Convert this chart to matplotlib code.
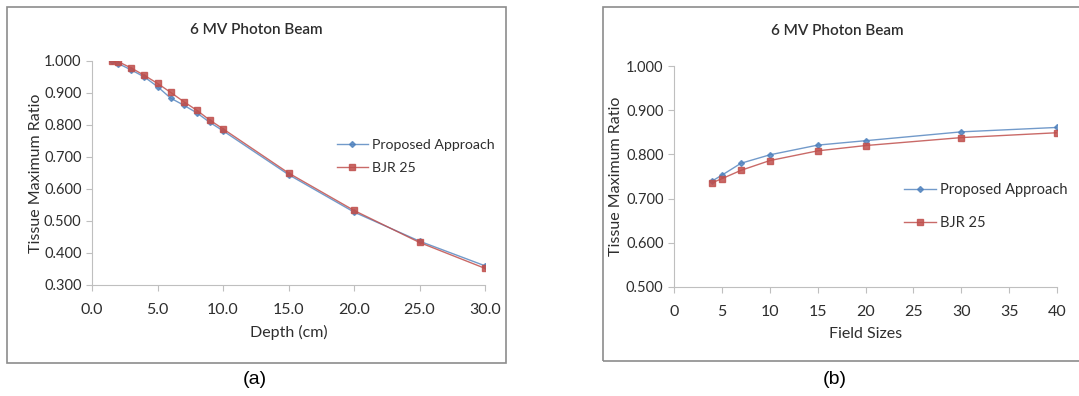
import matplotlib.pyplot as plt
from matplotlib.patches import Rectangle

depth = [1.5, 2, 3, 4, 5, 6, 7, 8, 9, 10, 15, 20, 25, 30]
tmr_prop_depth = [1.000, 0.992, 0.972, 0.950, 0.920, 0.884, 0.862, 0.838, 0.808, 0.782, 0.645, 0.528, 0.437, 0.360]
tmr_bjr_depth = [1.000, 0.998, 0.978, 0.955, 0.930, 0.902, 0.873, 0.846, 0.815, 0.788, 0.650, 0.533, 0.433, 0.352]

field = [4, 5, 7, 10, 15, 20, 30, 40]
tmr_prop_field = [0.740, 0.753, 0.780, 0.799, 0.821, 0.831, 0.851, 0.861]
tmr_bjr_field = [0.736, 0.745, 0.764, 0.786, 0.808, 0.820, 0.838, 0.849]

plt.rcParams['font.family'] = ['Lato', 'DejaVu Sans']
blue = '#4F81BD'
red = '#C0504D'
txt = '#2e2e2e'

fig = plt.figure(figsize=(10.79, 3.96), dpi=100)
W, H = 1079, 396

# outer boxes of the two panels
fig.patches.append(Rectangle((7/W, 1-363/H), 499/W, 356/H, transform=fig.transFigure,
                             fill=False, edgecolor='#8c8c8c', lw=1.2))
fig.patches.append(Rectangle((603/W, 1-361/H), 480/W, 354/H, transform=fig.transFigure,
                             fill=False, edgecolor='#8c8c8c', lw=1.2))


def style(ax):
    for s in ['top', 'right']:
        ax.spines[s].set_visible(False)
    for s in ['left', 'bottom']:
        ax.spines[s].set_color('#bfbfbf')
    ax.tick_params(colors='#bfbfbf', labelcolor=txt, labelsize=11.5, length=4, width=0.8)
    ax.tick_params(axis='x', pad=9)
    ax.tick_params(axis='y', labelsize=10.5)


# (a) depth
ax1 = fig.add_axes([92/W, 1-285/H, 393/W, 224/H])
ax1.plot(depth, tmr_prop_depth, color=blue, lw=1.0, marker='D', ms=3, label='Proposed Approach', alpha=0.8)
ax1.plot(depth, tmr_bjr_depth, color=red, lw=1.0, marker='s', ms=5, label='BJR 25', alpha=0.85)
ax1.set_xlim(0, 30)
ax1.set_ylim(0.3, 1.0)
ax1.set_xticks([0, 5, 10, 15, 20, 25, 30])
ax1.set_xticklabels(['0.0', '5.0', '10.0', '15.0', '20.0', '25.0', '30.0'])
ax1.set_yticks([0.3, 0.4, 0.5, 0.6, 0.7, 0.8, 0.9, 1.0])
ax1.set_yticklabels(['%.3f' % v for v in [0.3, 0.4, 0.5, 0.6, 0.7, 0.8, 0.9, 1.0]])
style(ax1)
ax1.set_xlabel('Depth (cm)', fontsize=11.5, color=txt, labelpad=6)
ax1.set_ylabel('Tissue Maximum Ratio', fontsize=11.5, color=txt)
ax1.yaxis.set_label_coords(-0.125, 0.5)
ax1.legend(loc='center left', bbox_to_anchor=(0.59, 0.575), frameon=False, fontsize=10.2,
           labelcolor=txt, handlelength=2.2, handletextpad=0.3, labelspacing=0.75)

# (b) field size
ax2 = fig.add_axes([674/W, 1-287/H, 383/W, 221/H])
ax2.plot(field, tmr_prop_field, color=blue, lw=1.0, marker='D', ms=3, label='Proposed Approach', alpha=0.8)
ax2.plot(field, tmr_bjr_field, color=red, lw=1.0, marker='s', ms=5, label='BJR 25', alpha=0.85)
ax2.set_xlim(0, 40)
ax2.set_ylim(0.5, 1.0)
ax2.set_xticks(range(0, 41, 5))
ax2.set_yticks([0.5, 0.6, 0.7, 0.8, 0.9, 1.0])
ax2.set_yticklabels(['%.3f' % v for v in [0.5, 0.6, 0.7, 0.8, 0.9, 1.0]])
style(ax2)
ax2.set_xlabel('Field Sizes', fontsize=11.5, color=txt, labelpad=6)
ax2.set_ylabel('Tissue Maximum Ratio', fontsize=11.5, color=txt)
ax2.yaxis.set_label_coords(-0.132, 0.5)
ax2.legend(loc='center left', bbox_to_anchor=(0.565, 0.365), frameon=False, fontsize=10.5,
           labelcolor=txt, handlelength=2.2, handletextpad=0.3, labelspacing=1.3)

fig.text(256/W, 1-30/H, '6 MV Photon Beam', ha='center', va='center', fontsize=11,
         color=txt, fontweight='semibold')
fig.text(837/W, 1-31/H, '6 MV Photon Beam', ha='center', va='center', fontsize=11,
         color=txt, fontweight='semibold')

fig.text(255/W, 1-380/H, '(a)', ha='center', va='center', fontsize=14, family='Liberation Sans')
fig.text(835/W, 1-380/H, '(b)', ha='center', va='center', fontsize=14, family='Liberation Sans')

fig.savefig('out.png', dpi=100)
